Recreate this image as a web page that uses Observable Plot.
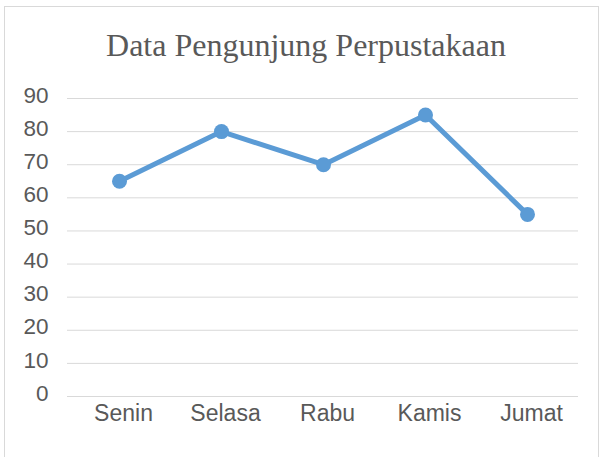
<!DOCTYPE html>
<html>
<head>
<meta charset="utf-8">
<script src="https://cdn.jsdelivr.net/npm/d3@7"></script>
<script src="https://cdn.jsdelivr.net/npm/@observablehq/plot@0.6"></script>
<style>
  html, body { margin: 0; padding: 0; background: #fff; }
  #wrap { position: relative; width: 602px; height: 457px; overflow: hidden; background: #fff; }
  #frame { position: absolute; left: 4px; top: 6px; width: 595px; height: 470px; border: 1px solid #d9d9d9; box-sizing: border-box; }
  #title { position: absolute; left: 0; width: 612px; top: 27px; text-align: center; white-space: nowrap;
           font-family: "Liberation Serif", "Times New Roman", serif; font-size: 32px; color: #595959; line-height: 36px; }
  #chart { position: absolute; left: 0; top: 0; }
</style>
</head>
<body>
<div id="wrap">
  <div id="frame"></div>
  <div id="title">Data Pengunjung Perpustakaan</div>
  <div id="chart"></div>
</div>
<script>
const days = ["Senin", "Selasa", "Rabu", "Kamis", "Jumat"];
const visitors = [65, 80, 70, 85, 55];
const yTicks = [0, 10, 20, 30, 40, 50, 60, 70, 80, 90];

const data = days.map((d, i) => ({day: d, value: visitors[i]}));

const plot = Plot.plot({
  width: 602,
  height: 457,
  marginTop: 98,
  marginBottom: 61,
  marginLeft: 67,
  marginRight: 24,
  style: {fontFamily: "'Liberation Sans', Arial, sans-serif", fontSize: "23px", color: "#595959", background: "transparent", overflow: "visible"},
  x: {type: "point", domain: days, padding: 0.5, label: null},
  y: {domain: [0, 90], label: null},
  marks: [
    Plot.ruleY(yTicks, {stroke: "#d9d9d9", strokeWidth: 1}),
    Plot.axisY(yTicks, {tickSize: 0, tickPadding: 19, dy: -3, fill: "#595959", fontSize: 22.5, label: null}),
    Plot.axisX({tickSize: 0, tickPadding: 8, dx: 4, fill: "#595959", fontSize: 23, label: null}),
    Plot.line(data, {x: "day", y: "value", stroke: "#5B9BD5", strokeWidth: 5, strokeLinejoin: "round"}),
    Plot.dot(data, {x: "day", y: "value", r: 7.5, fill: "#5B9BD5", stroke: "none"})
  ]
});
document.getElementById("chart").appendChild(plot);
</script>
</body>
</html>
